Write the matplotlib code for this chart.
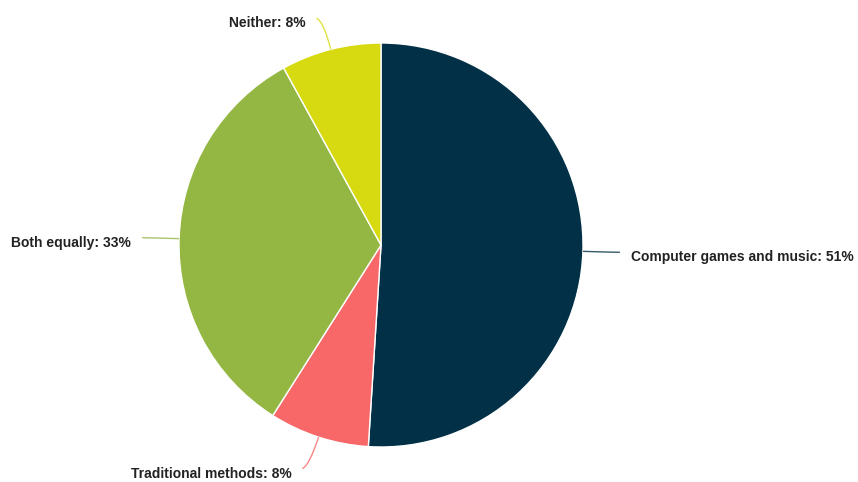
import numpy as np
import matplotlib
matplotlib.use("Agg")
import matplotlib.pyplot as plt
from matplotlib.path import Path
from matplotlib.patches import PathPatch

categories = ["Computer games and music", "Traditional methods", "Both equally", "Neither"]
shares = [51, 8, 33, 8]
colors = ["#023047", "#f86868", "#93b742", "#d7da10"]

W, H = 858, 482
fig = plt.figure(figsize=(W / 100, H / 100), dpi=100)
ax = fig.add_axes([0, 0, 1, 1])

cx, cy, R = 381, H - 245, 202
wedges, _ = ax.pie(shares, colors=colors, startangle=90, counterclock=False,
                   center=(cx, cy), radius=R,
                   wedgeprops=dict(edgecolor="white", linewidth=1))

ax.set_xlim(0, W)
ax.set_ylim(0, H)
ax.set_aspect("auto")
ax.axis("off")

for w, name, val, col in zip(wedges, categories, shares, colors):
    ang = np.deg2rad((w.theta1 + w.theta2) / 2)
    ux, uy = np.cos(ang), np.sin(ang)
    p0 = (cx + R * ux, cy + R * uy)
    p1 = (cx + (R + 30) * ux, cy + (R + 30) * uy)
    side = 1 if ux >= 0 else -1
    p2 = (p1[0] + side * 7, p1[1] + (2 if uy > 0.5 else (-3 if uy < -0.5 else 0)))
    path = Path([p0, p1, p2], [Path.MOVETO, Path.CURVE3, Path.CURVE3])
    ax.add_patch(PathPatch(path, fill=False, edgecolor=col, linewidth=1, alpha=0.8))
    ax.text(p2[0] + side * 11, p2[1] - 5, f"{name}: {val}%",
            ha="left" if side > 0 else "right", va="center",
            fontsize=10, fontweight="bold", family="Liberation Sans", color="#222222")

fig.savefig("out.png", dpi=100)
